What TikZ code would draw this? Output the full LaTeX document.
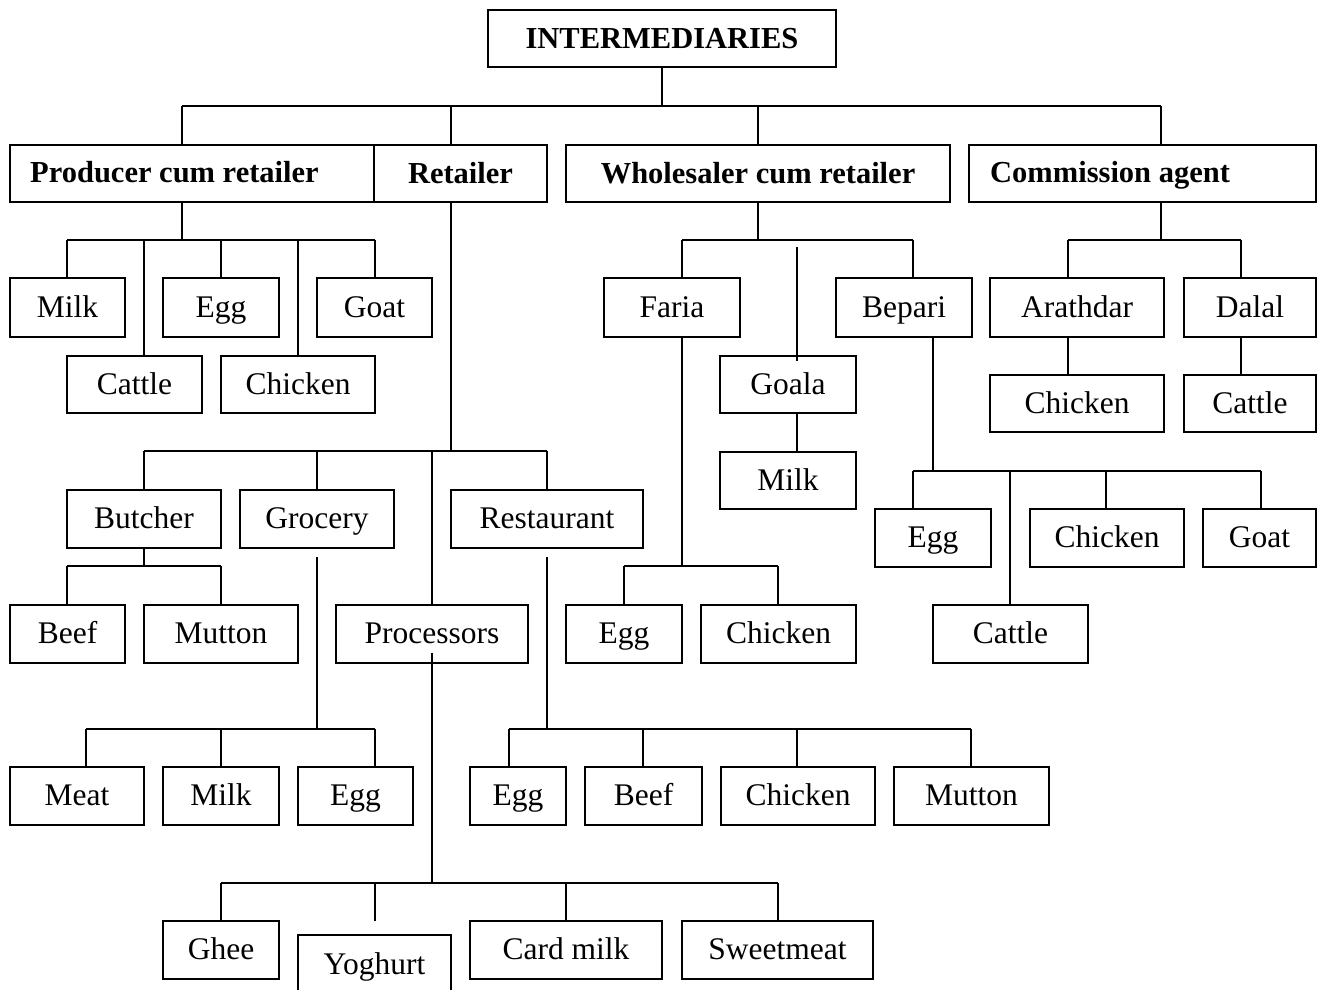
\documentclass[tikz,border=0pt]{standalone}
\usepackage{fontspec}
\setmainfont{Liberation Serif}
\tikzset{
  box/.style={draw, line width=1.5pt, inner sep=0pt, text height=25pt, text depth=6pt,
              font=\fontsize{31.5}{36}\selectfont},
  hd/.style={box, font=\fontsize{30.5}{36}\selectfont\bfseries},
  hdtext/.style={inner sep=0pt, font=\fontsize{30.5}{36}\selectfont\bfseries},
  wire/.style={line width=1.5pt},
}
% \bx[style]{name}{x1}{y1}{x2}{y2}{text}: a box given by its corners
\newcommand{\bx}[7][box]{%
  \node[#1, minimum width={(#5-#3)*1pt}, minimum height={(#6-#4)*1pt}]
    (#2) at ({(#3+#5)/2},{(#4+#6)/2}) {#7};}
\begin{document}
\begin{tikzpicture}[x=1pt,y=-1pt]
\useasboundingbox (0,0) rectangle (1321,989);

% ---------- boxes ----------
\bx[hd]{top}{488}{10}{836}{67}{INTERMEDIARIES}
\bx[hd]{prod}{10}{145}{374}{202}{}
\node[hdtext, anchor=base west] (prodtxt) at (30,182) {Producer cum retailer};
\bx[hd]{ret}{374}{145}{547}{202}{Retailer}
\bx[hd]{whole}{566}{145}{950}{202}{Wholesaler cum retailer}
\bx[hd]{comm}{969}{145}{1316}{202}{}
\node[hdtext, anchor=base west] (commtxt) at (990,182) {Commission agent};

% producer cum retailer
\bx{pmilk}{10}{278}{125}{337}{Milk}
\bx{pegg}{163}{278}{279}{337}{Egg}
\bx{pgoat}{317}{278}{432}{337}{Goat}
\bx{pcattle}{67}{356}{202}{413}{Cattle}
\bx{pchick}{221}{356}{375}{413}{Chicken}

% retailer
\bx{butch}{67}{490}{221}{548}{Butcher}
\bx{groc}{240}{490}{394}{548}{Grocery}
\bx{rest}{451}{490}{643}{548}{Restaurant}
\bx{beef}{10}{605}{125}{663}{Beef}
\bx{mutton}{144}{605}{298}{663}{Mutton}
\bx{proc}{336}{605}{528}{663}{Processors}
\bx{gmeat}{10}{767}{144}{825}{Meat}
\bx{gmilk}{163}{767}{279}{825}{Milk}
\bx{gegg}{298}{767}{413}{825}{Egg}
\bx{regg}{470}{767}{566}{825}{Egg}
\bx{rbeef}{585}{767}{702}{825}{Beef}
\bx{rchick}{721}{767}{875}{825}{Chicken}
\bx{rmutton}{894}{767}{1049}{825}{Mutton}
\bx{ghee}{163}{921}{279}{979}{Ghee}
\bx{yog}{298}{935}{451}{994}{Yoghurt}
\bx{card}{470}{921}{662}{979}{Card milk}
\bx{sweet}{682}{921}{873}{979}{Sweetmeat}

% wholesaler cum retailer
\bx{faria}{604}{278}{740}{337}{Faria}
\bx{bepari}{836}{278}{972}{337}{Bepari}
\bx{goala}{720}{356}{856}{413}{Goala}
\bx{wmilk}{720}{452}{856}{509}{Milk}
\bx{fegg}{566}{605}{682}{663}{Egg}
\bx{fchick}{701}{605}{856}{663}{Chicken}
\bx{begg}{875}{509}{991}{567}{Egg}
\bx{bchick}{1030}{509}{1184}{567}{Chicken}
\bx{bgoat}{1203}{509}{1316}{567}{Goat}
\bx{bcattle}{933}{605}{1088}{663}{Cattle}

% commission agent
\bx{arath}{990}{278}{1164}{337}{Arathdar}
\bx{dalal}{1184}{278}{1316}{337}{Dalal}
\bx{cchick}{990}{375}{1164}{432}{Chicken}
\bx{ccattle}{1184}{375}{1316}{432}{Cattle}

% ---------- connectors ----------
% root
\coordinate (j) at (662,106);
\draw[wire] (top.south) -- (j);
\foreach \x/\n in {182/prod,451/ret,758/whole,1161/comm}
  \draw[wire] (\x,106) coordinate (j-\n) -- (j-\n |- \n.north);
\draw[wire] (j-prod) -- (j-comm);

% producer cum retailer
\coordinate (k-prod) at (182,240);
\draw[wire] (prod.south -| k-prod) -- (k-prod);
\foreach \x/\n in {67/pmilk,144/pcattle,221/pegg,298/pchick,375/pgoat}
  \draw[wire] (\x,240) coordinate (k-\n) -- (k-\n |- \n.north);
\draw[wire] (k-pmilk) -- (k-pgoat);

% retailer
\coordinate (k-ret) at (451,451);
\draw[wire] (ret.south -| k-ret) -- (k-ret);
\foreach \x/\n in {144/butch,317/groc,432/proc,547/rest}
  \draw[wire] (\x,451) coordinate (k-\n) -- (k-\n |- \n.north);
\draw[wire] (k-butch) -- (k-rest);

% butcher
\coordinate (m-butch) at (144,566);
\draw[wire] (butch.south) -- (m-butch);
\foreach \x/\n in {67/beef,221/mutton}
  \draw[wire] (\x,566) coordinate (m-\n) -- (m-\n |- \n.north);
\draw[wire] (m-beef) -- (m-mutton);

% grocery
\coordinate (m-groc) at (317,729);
\draw[wire] ([yshift=-8pt]groc.south) -- (m-groc);
\foreach \x/\n in {86/gmeat,221/gmilk,375/gegg}
  \draw[wire] (\x,729) coordinate (m-\n) -- (m-\n |- \n.north);
\draw[wire] (m-gmeat) -- (m-gegg);

% restaurant
\coordinate (m-rest) at (547,729);
\draw[wire] ([yshift=-8pt]rest.south) -- (m-rest);
\foreach \x/\n in {509/regg,643/rbeef,797/rchick,971/rmutton}
  \draw[wire] (\x,729) coordinate (m-\n) -- (m-\n |- \n.north);
\draw[wire] (m-regg) -- (m-rmutton);

% processors
\coordinate (m-proc) at (432,883);
\draw[wire] ([yshift=11pt]proc.south) -- (m-proc);
\foreach \x/\n in {221/ghee,566/card,778/sweet}
  \draw[wire] (\x,883) coordinate (m-\n) -- (m-\n |- \n.north);
\draw[wire] (375,883) coordinate (m-yog) -- ([yshift=13pt]m-yog |- yog.north);
\draw[wire] (m-ghee) -- (m-sweet);

% wholesaler cum retailer
\coordinate (k-whole) at (758,240);
\draw[wire] (whole.south) -- (k-whole);
\foreach \x/\n in {682/faria,913/bepari}
  \draw[wire] (\x,240) coordinate (k-\n) -- (k-\n |- \n.north);
\draw[wire] (k-faria) -- (k-bepari);
\draw[wire] (797,247) coordinate (k-goala) -- ([yshift=-6pt]k-goala |- goala.north);

% faria
\coordinate (m-faria) at (682,566);
\draw[wire] (faria.south -| m-faria) -- (m-faria);
\foreach \x/\n in {624/fegg,778/fchick}
  \draw[wire] (\x,566) coordinate (m-\n) -- (m-\n |- \n.north);
\draw[wire] (m-fegg) -- (m-fchick);

% goala
\draw[wire] (goala.south -| k-goala) -- (wmilk.north -| k-goala);

% bepari
\coordinate (m-bepari) at (933,471);
\draw[wire] (bepari.south -| m-bepari) -- (m-bepari);
\foreach \x/\n in {913/begg,1010/bcattle,1106/bchick,1261/bgoat}
  \draw[wire] (\x,471) coordinate (m-\n) -- (m-\n |- \n.north);
\draw[wire] (m-begg) -- (m-bgoat);

% commission agent
\coordinate (k-comm) at (1161,240);
\draw[wire] (comm.south -| k-comm) -- (k-comm);
\foreach \x/\n in {1068/arath,1241/dalal}
  \draw[wire] (\x,240) coordinate (k-\n) -- (k-\n |- \n.north);
\draw[wire] (k-arath) -- (k-dalal);
\draw[wire] (arath.south -| k-arath) -- (cchick.north -| k-arath);
\draw[wire] (dalal.south -| k-dalal) -- (ccattle.north -| k-dalal);
\end{tikzpicture}
\end{document}
